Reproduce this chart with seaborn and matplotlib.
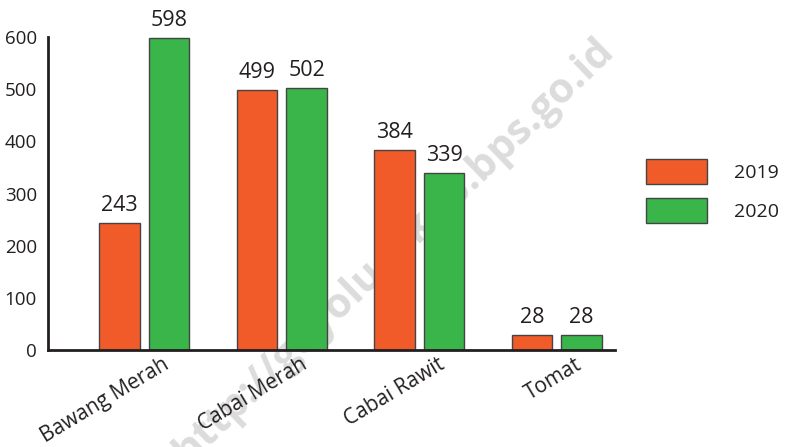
import pandas as pd
import matplotlib.pyplot as plt
import matplotlib.transforms as mtransforms
import seaborn as sns

sns.set_style("white")
plt.rcParams["font.family"] = ["Open Sans", "DejaVu Sans"]

komoditas = ["Bawang Merah", "Cabai Merah", "Cabai Rawit", "Tomat"]
tahun = ["2019", "2020"]
nilai_2019 = [243, 499, 384, 28]
nilai_2020 = [598, 502, 339, 28]
warna = ["#F15A29", "#39B54A"]

df = pd.DataFrame({
    "komoditas": komoditas * 2,
    "tahun": [tahun[0]] * 4 + [tahun[1]] * 4,
    "nilai": nilai_2019 + nilai_2020,
})

fig = plt.figure(figsize=(7.89, 4.47), dpi=100)
ax = fig.add_axes([0.061, 0.217, 0.718, 0.700])
ax.patch.set_alpha(0)

# watermark di belakang batang (terpotong di bawah, seperti aslinya)
wm = fig.text(0.50, 0.44, "http://gayolueskab.bps.go.id", rotation=44, fontsize=30,
              fontweight="bold", color="#dcdcdc", ha="center", va="center")
wm.set_zorder(-1)

sns.barplot(data=df, x="komoditas", y="nilai", hue="tahun", palette=warna,
            saturation=1, width=0.72, gap=0.18, edgecolor="#444444",
            linewidth=1, ax=ax)

for cont in ax.containers:
    ax.bar_label(cont, padding=5, fontsize=15.5, color="#231f20")

ax.set_xlim(-0.7, 3.42)
ax.set_ylim(0, 600)
ax.set_yticks([0, 100, 200, 300, 400, 500, 600])
ax.set_xlabel("")
ax.set_ylabel("")
sns.despine(ax=ax)
for s in ["left", "bottom"]:
    ax.spines[s].set_color("#231f20")
    ax.spines[s].set_linewidth(2)
ax.tick_params(axis="y", direction="in", length=10, width=2, color="#231f20",
               labelsize=13.5, labelcolor="#231f20", pad=8)
ax.tick_params(axis="x", length=0, labelsize=15, labelcolor="#231f20", pad=3)
geser = mtransforms.ScaledTranslation(0.18, 0, fig.dpi_scale_trans)
for t in ax.get_xticklabels():
    t.set_rotation(31)
    t.set_ha("right")
    t.set_rotation_mode("anchor")
    t.set_transform(t.get_transform() + geser)

h, l = ax.get_legend_handles_labels()
ax.get_legend().remove()
fig.legend(h, l, loc="center left", bbox_to_anchor=(0.797, 0.573), frameon=False,
           fontsize=14, handlelength=3.1, handleheight=1.6, handletextpad=1.4,
           labelspacing=0.7, labelcolor="#231f20")

fig.savefig("out.png", dpi=100)
